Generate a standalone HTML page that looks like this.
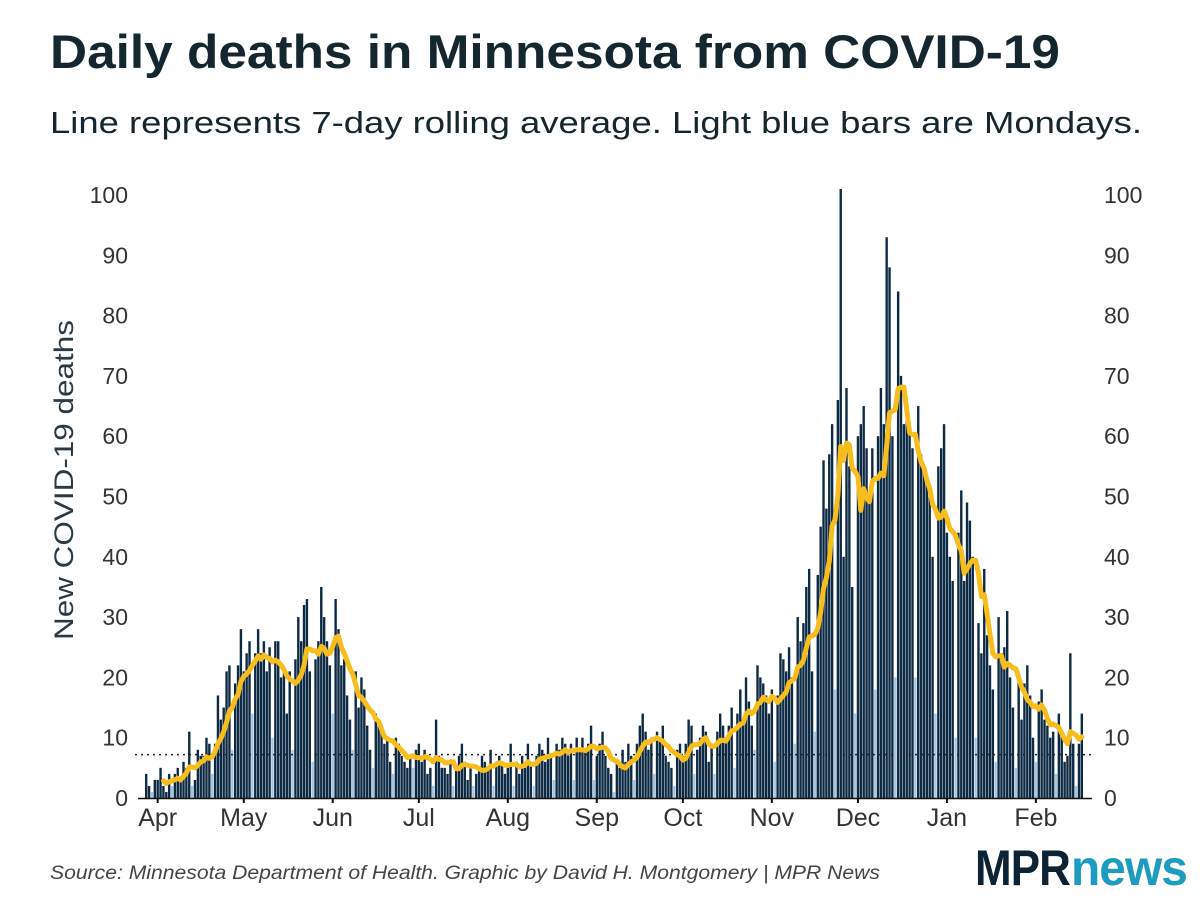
<!DOCTYPE html>
<html><head><meta charset="utf-8"><style>
body{margin:0;background:#fff;width:1200px;height:900px;overflow:hidden;font-family:"Liberation Sans",sans-serif}
</style></head><body>
<svg id="chart" width="1200" height="900" xmlns="http://www.w3.org/2000/svg" font-family="Liberation Sans, sans-serif">
<text x="50" y="68" font-size="47" font-weight="bold" fill="#16262e" textLength="1010" lengthAdjust="spacingAndGlyphs">Daily deaths in Minnesota from COVID-19</text>
<text x="50" y="133" font-size="31" fill="#16262e" textLength="1092" lengthAdjust="spacingAndGlyphs">Line represents 7-day rolling average. Light blue bars are Mondays.</text>
<text transform="translate(73,480) rotate(-90)" text-anchor="middle" font-size="27" fill="#2a3a44" textLength="320" lengthAdjust="spacingAndGlyphs">New COVID-19 deaths</text>
<text x="50" y="879" font-size="19" font-style="italic" fill="#444" textLength="830" lengthAdjust="spacingAndGlyphs">Source: Minnesota Department of Health. Graphic by David H. Montgomery | MPR News</text>
<g font-weight="bold" font-size="50" letter-spacing="-1">
<text x="975" y="885" fill="#0d2233" textLength="95" lengthAdjust="spacingAndGlyphs">MPR</text>
<text x="1071" y="885" fill="#1b9cc0" textLength="116" lengthAdjust="spacingAndGlyphs">news</text>
</g>
<g id="plot"></g>
</svg>
<script>
const values = [
4,2,1,3,3,5,2,
1,4,2,4,5,3,6,
5,11,2,3,8,7,7,
10,9,4,9,17,13,15,
21,22,8,19,22,28,21,
24,26,14,24,28,24,26,
21,25,10,26,26,20,21,
14,21,8,23,30,26,32,
33,21,6,23,26,35,30,
26,22,14,33,28,22,23,
17,13,8,21,15,20,18,
12,8,5,14,12,11,9,
10,6,4,10,9,7,6,
5,7,5,8,9,6,8,
4,5,2,13,7,5,5,
4,6,2,5,7,9,6,
3,5,2,4,5,7,6,
5,8,2,6,7,6,4,
5,9,2,6,4,7,5,
9,6,2,7,9,8,6,
10,7,3,9,8,10,9,
7,9,3,10,8,10,8,
9,12,3,7,9,11,7,
5,4,1,6,5,8,6,
9,7,3,9,12,14,11,
8,10,4,11,10,12,7,
6,5,2,8,9,7,9,
13,12,4,8,10,12,11,
6,9,4,11,14,12,10,
12,15,5,14,18,13,20,
16,12,8,22,20,19,17,
14,18,6,17,24,23,21,
25,20,9,30,26,29,35,
38,21,11,37,45,56,48,
57,62,18,66,101,40,68,
55,35,14,60,62,65,58,
50,58,18,60,68,62,93,
88,60,20,84,70,62,66,
62,58,20,65,57,55,52,
52,40,14,55,58,62,44,
40,36,10,44,51,36,49,
46,40,10,29,24,38,27,
22,18,6,30,24,25,31,
20,15,5,20,13,19,22,
17,10,6,16,18,13,12,
10,11,4,14,11,6,7,
24,9,2,9,14];
const mondayOffset = 2; // first day Mar 28 (Sat); Monday at index 2
const monthLabels = ["Apr","May","Jun","Jul","Aug","Sep","Oct","Nov","Dec","Jan","Feb"];
const monthDayIndex = [4,34,65,95,126,157,187,218,248,279,310];
const yTicks = [0,10,20,30,40,50,60,70,80,90,100];
const baselineValue = 7.2;

const NS="http://www.w3.org/2000/svg";
const plot=document.getElementById('plot');
const x0=146.2, dx=2.87, y0=798, ky=6.03;
const X=i=>x0+i*dx;
const Y=v=>y0-v*ky;
function mk(t,a){const e=document.createElementNS(NS,t);for(const k in a)e.setAttribute(k,a[k]);plot.appendChild(e);return e;}

yTicks.forEach(v=>{
  const l=mk('text',{x:128,y:Y(v)+8,'text-anchor':'end','font-size':23,fill:'#333'});
  l.textContent=v;
  
  
  const r=mk('text',{x:1104,y:Y(v)+8,'text-anchor':'start','font-size':23,fill:'#333'});
  r.textContent=v;
  
  
});

values.forEach((v,i)=>{
  const mon=(i-mondayOffset)%7===0;
  const b=mk('rect',{x:X(i)-1.2,y:Y(v),width:2.4,height:v*ky,fill:mon?'#a9c6dd':'#0d2a45'});
  
  
});

const bl=mk('line',{x1:135,x2:1095,y1:Y(baselineValue),y2:Y(baselineValue),stroke:'#222','stroke-width':1.5,'stroke-dasharray':'2,4'});



const ax=mk('line',{x1:138,x2:1092,y1:y0+0.5,y2:y0+0.5,stroke:'#111','stroke-width':1.5});



monthLabels.forEach((m,k)=>{
  const xi=X(monthDayIndex[k]);
  const t=mk('line',{x1:xi,x2:xi,y1:y0,y2:y0+5,stroke:'#111','stroke-width':2});
  
  
  const l=mk('text',{x:xi,y:826,'text-anchor':'middle','font-size':25,fill:'#333'});
  l.textContent=m;
  
  
});

let pts=[];
for(let i=6;i<values.length;i++){
  let s=0;for(let j=i-6;j<=i;j++)s+=values[j];
  pts.push(X(i).toFixed(1)+','+Y(s/7).toFixed(1));
}
const line=mk('polyline',{points:pts.join(' '),fill:'none',stroke:'#f7bd1c','stroke-width':5,'stroke-linejoin':'round','stroke-linecap':'round'});


</script>
</body></html>
